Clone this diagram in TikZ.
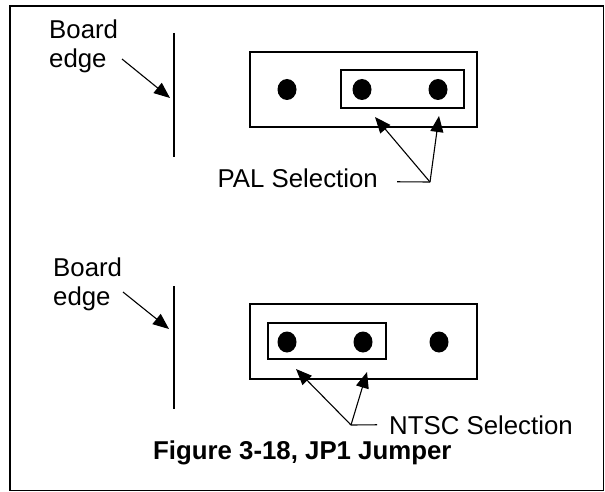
\documentclass[tikz,border=0pt]{standalone}
\usepackage{fontspec}
\setmainfont{Liberation Sans}
\usetikzlibrary{calc}
\usetikzlibrary{arrows.meta}
\usetikzlibrary{shapes.geometric}
\usetikzlibrary{positioning}
\tikzset{
	pin/.style={ellipse,fill=black,minimum width=19pt,minimum height=21pt,inner sep=0pt},
	pinbox/.style={draw,line width=2pt,inner sep=0pt},
	pointer/.style={line width=1.1pt,-{Triangle[length=16pt,width=13pt]}},
	lbl/.style={font=\fontsize{25.8}{29}\selectfont,inner sep=0pt},
}

\begin{document}
\begin{tikzpicture}[x=1pt,y=-1pt]
		\useasboundingbox (0,0) rectangle (605,492);
		\draw[line width=1.9pt] (10,6) rectangle (603.5,490.5);
		% PAL setting
		\node[lbl,anchor=base west] (board1) at (49,39) {Board};
		\node[lbl,anchor=base west] (edge1) at (49,68) {edge};
		\draw[line width=2pt] (174,33) coordinate (rim1a) -- (174,157) coordinate (rim1b);
		\coordinate (from1) at (122,59);
		\coordinate (hit1) at (170,98);
		\draw[pointer] (from1) -- (hit1);
		\node[pinbox,minimum width=227pt,minimum height=75pt] (jp1) at (363.5,89.5) {};
		\node[pinbox,minimum width=123pt,minimum height=38pt] (cap1) at (402.5,89) {};
		\foreach \x\n in {287/a,362/b,438/c}
		\node[pin] (p1\n) at (\x,89.5) {};
		\node[lbl,anchor=base east] (pal) at (378,187) {PAL Selection};
		\coordinate (j1) at (430,182);
		\coordinate (t1a) at (375,117);
		\coordinate (t1b) at (439,116);
		\draw[line width=1.1pt] ($(pal.east)+(19,4)$) -- (j1);
		\draw[pointer] (j1) -- (t1a);
		\draw[pointer] (j1) -- (t1b);
		% NTSC setting
		\node[lbl,anchor=base west] (board2) at (53,276) {Board};
		\node[lbl,anchor=base west] (edge2) at (53,305) {edge};
		\draw[line width=2pt] (174,286) coordinate (rim2a) -- (174,409) coordinate (rim2b);
		\coordinate (from2) at (123,292);
		\coordinate (hit2) at (169,329);
		\draw[pointer] (from2) -- (hit2);
		\node[pinbox,minimum width=227pt,minimum height=75pt] (jp2) at (363.5,341.5) {};
		\node[pinbox,minimum width=118pt,minimum height=36pt] (cap2) at (327,341) {};
		\foreach \x\n in {287/a,363/b,439/c}
		\node[pin] (p2\n) at (\x,342) {};
		\node[lbl,anchor=base west] (ntsc) at (389,434) {NTSC Selection};
		\coordinate (j2) at (351,425);
		\coordinate (t2a) at (296,369);
		\coordinate (t2b) at (367,372);
		\draw[line width=1.1pt] ($(ntsc.west)+(-12,0)$) -- (j2);
		\draw[pointer] (j2) -- (t2a);
		\draw[pointer] (j2) -- (t2b);
		\node[lbl,font=\fontsize{25.8}{29}\selectfont\bfseries,anchor=base west] (title) at (153,459) {Figure 3-18, JP1 Jumper};
	\end{tikzpicture}
\end{document}
